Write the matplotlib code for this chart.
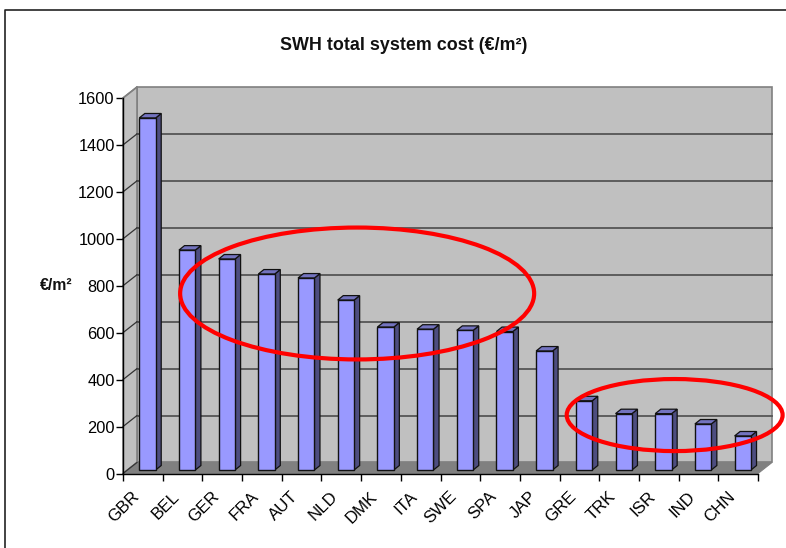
import matplotlib
matplotlib.use("Agg")
import matplotlib.pyplot as plt
from matplotlib.patches import Polygon, Ellipse, Rectangle
from matplotlib.lines import Line2D

plt.rcParams['font.family'] = ['Liberation Sans', 'DejaVu Sans']

countries = ["GBR", "BEL", "GER", "FRA", "AUT", "NLD", "DMK", "ITA",
             "SWE", "SPA", "JAP", "GRE", "TRK", "ISR", "IND", "CHN"]
cost = [1500, 937, 899, 835, 818, 724, 609, 600,
        595, 590, 507, 295, 240, 240, 196, 145]
yticks = [0, 200, 400, 600, 800, 1000, 1200, 1400, 1600]

# 3D look, in data units
wall_dx = 0.353
wall_dy = 47
bar_off = 0.41
bar_w = 0.413
bar_base = 15
depth_dx = 0.14
depth_dy = 19

W, H = 786, 548
fig = plt.figure(figsize=(W / 100, H / 100), dpi=100)
ax = fig.add_axes([123 / W, (H - 473.5) / H, 635 / W, 375.5 / H])
n = len(countries)
ax.set_xlim(0, n)
ax.set_ylim(0, 1600)
ax.patch.set_visible(False)

# walls and floor
ax.add_patch(Polygon([(wall_dx, wall_dy), (n + wall_dx, wall_dy), (n + wall_dx, 1600 + wall_dy), (wall_dx, 1600 + wall_dy)],
                     fc="#c0c0c0", ec="#808080", lw=1.2, clip_on=False, zorder=1))
ax.add_patch(Polygon([(0, 0), (wall_dx, wall_dy), (wall_dx, 1600 + wall_dy), (0, 1600)],
                     fc="#c0c0c0", ec="#808080", lw=1.2, clip_on=False, zorder=1))
ax.add_patch(Polygon([(0, 0), (wall_dx, wall_dy), (n + wall_dx, wall_dy), (n, 0)],
                     fc="#808080", ec="#808080", lw=0.8, clip_on=False, zorder=1))

# gridlines
for t in yticks[1:-1]:
    ax.plot([wall_dx, n + wall_dx], [t + wall_dy, t + wall_dy], color="#555555", lw=1.3, clip_on=False, zorder=2)
for t in yticks[:-1]:
    ax.plot([0, wall_dx], [t, t + wall_dy], color="#333333", lw=0.9, clip_on=False, zorder=2)
ax.plot([0, wall_dx], [1600, 1600 + wall_dy], color="#808080", lw=1.0, clip_on=False, zorder=2)

# bars
for i, v in enumerate(cost):
    x0 = i + bar_off
    x1 = x0 + bar_w
    top = bar_base + v
    ax.add_patch(Polygon([(x1, bar_base), (x1 + depth_dx, bar_base + depth_dy), (x1 + depth_dx, top + depth_dy), (x1, top)],
                         fc="#4d4d80", ec="#111111", lw=0.9, zorder=3, clip_on=False))
    ax.add_patch(Polygon([(x0, top), (x0 + depth_dx, top + depth_dy), (x1 + depth_dx, top + depth_dy), (x1, top)],
                         fc="#7373bf", ec="#111111", lw=0.9, zorder=3, clip_on=False))
    ax.add_patch(Rectangle((x0, bar_base), bar_w, v, fc="#9999ff", ec="#111111", lw=1.0, zorder=4, clip_on=False))

# axes
for s in ["top", "right"]:
    ax.spines[s].set_visible(False)
for s in ["left", "bottom"]:
    ax.spines[s].set_linewidth(1.0)
    ax.spines[s].set_zorder(5)
ax.set_yticks(yticks)
ax.set_xticks(range(n + 1))
ax.set_xticklabels([])
ax.set_xticks([i + 0.22 for i in range(n)], countries, minor=True)
ax.tick_params(axis="y", length=5, width=1.0, pad=1, labelsize=11.8)
ax.tick_params(axis="x", which="major", length=5, width=1.0)
ax.tick_params(axis="x", which="minor", length=0, pad=11, labelsize=12.2)
for lab in ax.get_xticklabels(minor=True):
    lab.set_rotation(45)
    lab.set_ha("right")
    lab.set_va("top")
    lab.set_rotation_mode("anchor")

# red circles drawn over the chart
ax.add_patch(Ellipse((5.9, 767), 8.92, 562, fc="none", ec="#ff0000", lw=3.0, clip_on=False, zorder=6))
ax.add_patch(Ellipse((13.9, 249), 5.44, 307, fc="none", ec="#ff0000", lw=3.0, clip_on=False, zorder=6))

# text
fig.text(404 / W, 1 - 46 / H, "SWH total system cost (€/m²)", ha="center", va="center",
         fontsize=12.9, fontweight="bold", color="#111111")
fig.text(56 / W, 1 - 285 / H, "€/m²", ha="center", va="center", fontsize=11.4, fontweight="bold", color="#111111")

# outer frame, cut off on the right and bottom
fig.add_artist(Line2D([5 / W, 5 / W, 1], [0, 1 - 10 / H, 1 - 10 / H], color="#222222", lw=1.2))

fig.savefig("out.png", dpi=100, facecolor="white")
